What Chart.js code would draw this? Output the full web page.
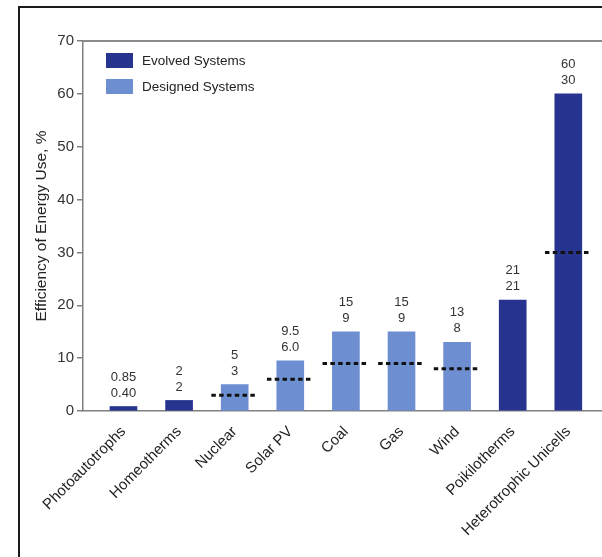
<!DOCTYPE html>
<html><head><meta charset="utf-8">
<script src="https://cdn.jsdelivr.net/npm/chart.js@4/dist/chart.umd.min.js"></script>
<style>
html,body{margin:0;padding:0;background:#fff;overflow:hidden;width:602px;height:557px}
#frame{position:absolute;left:18px;top:6px;width:700px;height:700px;border-left:2px solid #1a1a1a;border-top:2px solid #1a1a1a}
#wrap{position:absolute;left:0;top:0;width:602px;height:557px}
</style></head><body>
<div id="frame"></div>
<div id="wrap"><canvas id="c" width="602" height="557"></canvas></div>
<script>
const categories = ["Photoautotrophs","Homeotherms","Nuclear","Solar PV","Coal","Gas","Wind","Poikilotherms","Heterotrophic Unicells"];
const systemType = ["Evolved","Evolved","Designed","Designed","Designed","Designed","Designed","Evolved","Evolved"];
const maxEfficiency = [0.85, 2, 5, 9.5, 15, 15, 13, 21, 60];
const typicalEfficiency = [0.40, 2, 3, 6.0, 9, 9, 8, 21, 30];
const maxLabels = ["0.85","2","5","9.5","15","15","13","21","60"];
const typicalLabels = ["0.40","2","3","6.0","9","9","8","21","30"];
const dottedShown = [false, false, true, true, true, true, true, false, true];
const yTicks = [0, 10, 20, 30, 40, 50, 60, 70];
const seriesNames = {Evolved: "Evolved Systems", Designed: "Designed Systems"};

const FONT = "'Liberation Sans', Arial, Helvetica, sans-serif";
const DARK = "#27348f";
const LIGHT = "#6d8fd2";

function barsOf(type) {
  const out = [];
  categories.forEach((c, i) => { if (systemType[i] === type) out.push({x: i, y: maxEfficiency[i]}); });
  return out;
}
const dotted = [];
categories.forEach((c, i) => {
  if (dottedShown[i]) {
    dotted.push({x: i - 0.42, y: typicalEfficiency[i]});
    dotted.push({x: i + 0.42, y: typicalEfficiency[i]});
    dotted.push({x: i + 0.5, y: null});
  }
});

const extras = {
  id: 'extras',
  beforeDatasetsDraw(chart) {
    const {ctx, chartArea} = chart;
    ctx.save();
    ctx.strokeStyle = '#8a8a8a';
    ctx.lineWidth = 2;
    ctx.beginPath();
    ctx.moveTo(chartArea.left, chartArea.top);
    ctx.lineTo(chartArea.right, chartArea.top);
    ctx.stroke();
    ctx.restore();
  },
  afterDatasetsDraw(chart) {
    const {ctx} = chart;
    const xs = chart.scales.x, ys = chart.scales.y;
    ctx.save();
    ctx.fillStyle = '#333';
    ctx.font = "13px " + FONT;
    ctx.textAlign = 'center';
    ctx.textBaseline = 'middle';
    categories.forEach((c, i) => {
      const x = xs.getPixelForValue(i);
      const yTop = ys.getPixelForValue(maxEfficiency[i]);
      ctx.fillText(typicalLabels[i], x, yTop - 13.5);
      ctx.fillText(maxLabels[i], x, yTop - 29.5);
    });
    // legend
    const items = chart.data.datasets.filter(d => d.type !== 'line');
    ctx.font = "13.5px " + FONT;
    ctx.textAlign = 'left';
    items.forEach((d, k) => {
      const top = 53 + k * 26;
      ctx.fillStyle = d.backgroundColor;
      ctx.fillRect(106, top, 27, 15);
      ctx.fillStyle = '#222';
      ctx.fillText(d.label, 142, top + 8);
    });
    ctx.restore();
  }
};

new Chart(document.getElementById('c'), {
  type: 'bar',
  data: {
    datasets: [
      {type: 'line', label: 'typical', data: dotted, borderColor: '#111', borderWidth: 3,
       borderDash: [4.5, 3.3], pointRadius: 0, fill: false, spanGaps: false, order: 0},
      {label: seriesNames.Evolved, data: barsOf('Evolved'), backgroundColor: DARK, barThickness: 27, grouped: false, order: 1},
      {label: seriesNames.Designed, data: barsOf('Designed'), backgroundColor: LIGHT, barThickness: 27, grouped: false, order: 1}
    ]
  },
  options: {
    responsive: false,
    animation: false,
    layout: {padding: {left: 0, top: 41, right: 0, bottom: 0}},
    plugins: {legend: {display: false}, tooltip: {enabled: false}},
    scales: {
      x: {
        type: 'linear', min: -0.728, max: 8.606, offset: false,
        afterBuildTicks: a => { a.ticks = categories.map((c, i) => ({value: i})); },
        afterFit: s => { s.height = 146; },
        grid: {display: false, offset: false},
        border: {display: true, color: '#808080', width: 1.5},
        ticks: {callback: v => categories[v], minRotation: 45, maxRotation: 45, autoSkip: false,
                color: '#222', font: {size: 15, family: FONT}, padding: 4}
      },
      y: {
        min: 0, max: 70,
        afterBuildTicks: a => { a.ticks = yTicks.map(v => ({value: v})); },
        afterFit: s => { s.width = 83; },
        grid: {drawOnChartArea: false, drawTicks: true, tickLength: 6, color: '#808080', lineWidth: 1.5},
        border: {display: true, color: '#808080', width: 1.5},
        ticks: {color: '#333', font: {size: 15, family: FONT}, padding: 3},
        title: {display: true, text: 'Efficiency of Energy Use, %', color: '#222',
                font: {size: 15.5, family: FONT}, padding: {top: 32, bottom: 0}}
      }
    }
  },
  plugins: [extras]
});
</script>
</body></html>
